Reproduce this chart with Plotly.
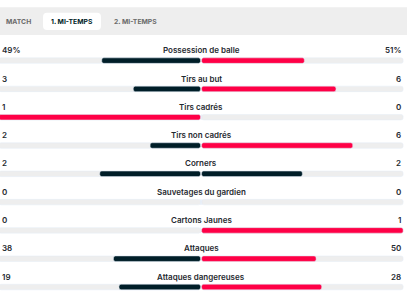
import plotly.graph_objects as go

# ---- data ----
stat_labels = ["Possession de balle", "Tirs au but", "Tirs cadrés", "Tirs non cadrés",
               "Corners", "Sauvetages du gardien", "Cartons Jaunes", "Attaques",
               "Attaques dangereuses"]
home_values = [49, 3, 1, 2, 2, 0, 0, 38, 19]
away_values = [51, 6, 0, 6, 2, 0, 1, 50, 28]
home_labels = ["49%", "3", "1", "2", "2", "0", "0", "38", "19"]
away_labels = ["51%", "6", "0", "6", "2", "0", "1", "50", "28"]
tab_labels = ["MATCH", "1. MI-TEMPS", "2. MI-TEMPS"]
active_tab = 1

# ---- style / layout constants ----
W, H = 407, 300
RED = "#ff0046"
DARK = "#001e28"
TRACK = "#eeeeee"
TEXT = "#1f2a30"
FONT = "Inter"
L_END = 200.5      # right end of the left track (px)
R_START = 201.6    # left end of the right track (px)
TRACK_LEN = 201.5
ROW0 = 60.6        # first bar centre (px)
STEP = 28.3        # row spacing (px)
BAR_H = 5.5

n = len(stat_labels)
rows = list(range(n))
y_top = -ROW0 / STEP
y_bot = (H - ROW0) / STEP
bw = BAR_H / STEP

fig = go.Figure()

# tracks
fig.add_trace(go.Bar(orientation="h", y=rows, x=[TRACK_LEN] * n, base=[L_END - TRACK_LEN] * n,
                     width=bw, marker_color=TRACK, hoverinfo="skip", showlegend=False))
fig.add_trace(go.Bar(orientation="h", y=rows, x=[TRACK_LEN] * n, base=[R_START] * n,
                     width=bw, marker_color=TRACK, hoverinfo="skip", showlegend=False))

# value bars
hl, hb, hc, al, ab, ac = [], [], [], [], [], []
for h, a in zip(home_values, away_values):
    tot = h + a
    hs = h / tot if tot else 0
    as_ = a / tot if tot else 0
    hl.append(hs * TRACK_LEN)
    hb.append(L_END - hs * TRACK_LEN)
    hc.append(RED if h > a else DARK)
    al.append(as_ * TRACK_LEN)
    ab.append(R_START)
    ac.append(RED if a > h else DARK)

fig.add_trace(go.Bar(orientation="h", y=rows, x=hl, base=hb, width=bw,
                     marker_color=hc, hoverinfo="skip", showlegend=False))
fig.add_trace(go.Bar(orientation="h", y=rows, x=al, base=ab, width=bw,
                     marker_color=ac, hoverinfo="skip", showlegend=False))

annotations = []
text_dy = 10.4 / STEP
for i in rows:
    yy = i - text_dy
    annotations.append(dict(x=(L_END + R_START) / 2, y=yy, xref="x", yref="y", text=stat_labels[i],
                            showarrow=False, xanchor="center", yanchor="middle",
                            font=dict(family=FONT, size=8, color=TEXT, weight=600)))
    annotations.append(dict(x=0.2, y=yy, xref="x", yref="y", text=home_labels[i],
                            showarrow=False, xanchor="left", yanchor="middle",
                            font=dict(family=FONT, size=8, color=TEXT, weight=600)))
    annotations.append(dict(x=R_START + TRACK_LEN, y=yy, xref="x", yref="y", text=away_labels[i],
                            showarrow=False, xanchor="right", yanchor="middle",
                            font=dict(family=FONT, size=8, color=TEXT, weight=600)))


def py(p):
    return 1 - p / H


def px(p):
    return p / W


shapes = [dict(type="rect", xref="paper", yref="paper", x0=0, x1=1, y0=py(35), y1=py(7.3),
               fillcolor="#eeeeee", line_width=0, layer="below")]

# active tab pill (rounded)
x0, x1, y0, y1, r = 43, 101, 12.7, 30, 4
path = (f"M {px(x0 + r)} {py(y0)} L {px(x1 - r)} {py(y0)} Q {px(x1)} {py(y0)} {px(x1)} {py(y0 + r)} "
        f"L {px(x1)} {py(y1 - r)} Q {px(x1)} {py(y1)} {px(x1 - r)} {py(y1)} "
        f"L {px(x0 + r)} {py(y1)} Q {px(x0)} {py(y1)} {px(x0)} {py(y1 - r)} "
        f"L {px(x0)} {py(y0 + r)} Q {px(x0)} {py(y0)} {px(x0 + r)} {py(y0)} Z")
shapes.append(dict(type="path", xref="paper", yref="paper", path=path,
                   fillcolor="white", line_width=0, layer="below"))

tab_x = [18, 72, 135.5]
for k, t in enumerate(tab_labels):
    annotations.append(dict(x=px(tab_x[k]), y=py(21.2), xref="paper", yref="paper", text=t,
                            showarrow=False, xanchor="center", yanchor="middle",
                            font=dict(family=FONT, size=6.8, weight=700,
                                      color=DARK if k == active_tab else "#6b6b6b")))

fig.update_layout(
    width=W, height=H, margin=dict(l=0, r=0, t=0, b=0),
    paper_bgcolor="white", plot_bgcolor="white",
    barmode="overlay", barcornerradius=2,
    xaxis=dict(range=[0, W], visible=False, fixedrange=True),
    yaxis=dict(range=[y_bot, y_top], visible=False, fixedrange=True),
    annotations=annotations, shapes=shapes,
)

fig.write_html("out.html", config={"displayModeBar": False})
